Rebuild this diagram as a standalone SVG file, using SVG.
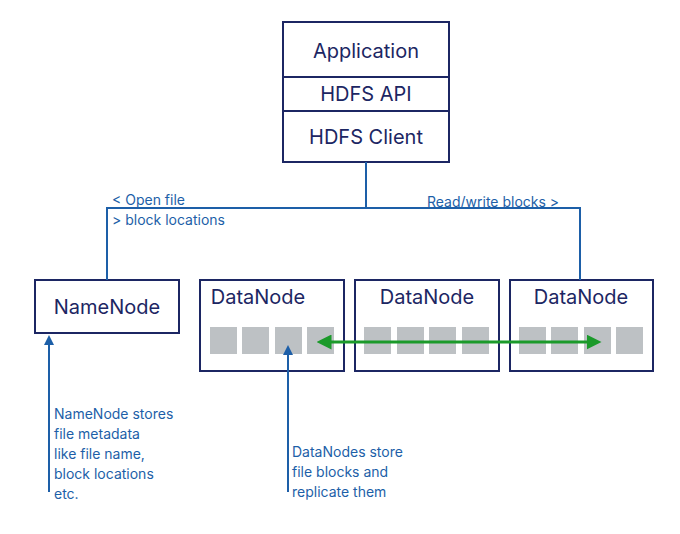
<svg xmlns="http://www.w3.org/2000/svg" width="680" height="534" viewBox="0 0 680 534">
<style>
.box{fill:#fff;stroke:#1c2663;stroke-width:2}
.t{font-family:Inter,"Open Sans",sans-serif;font-size:20px;fill:#1c2663;text-anchor:middle}
.a{font-family:Inter,"Open Sans",sans-serif;font-size:14px;fill:#1d5fa8}
.c{fill:none;stroke:#1d5fa8;stroke-width:2}
.b{fill:#bdc1c4}
</style>
<defs>
<marker id="ab" viewBox="0 0 10 10" refX="5" refY="5" markerWidth="5" markerHeight="5" orient="auto-start-reverse"><path d="M0,0L10,5L0,10z" fill="#1d5fa8"/></marker>
<marker id="ag" viewBox="0 0 10 10" refX="5" refY="5" markerWidth="5" markerHeight="5" orient="auto-start-reverse"><path d="M0,0L10,5L0,10z" fill="#1b9a2a"/></marker>
</defs>
<g id="application">
<rect class="box" x="283" y="22" width="166" height="140"/>
<line class="box" x1="283" y1="77" x2="449" y2="77"/>
<line class="box" x1="283" y1="111" x2="449" y2="111"/>
<text class="t" x="366" y="58">Application</text>
<text class="t" x="366" y="101">HDFS API</text>
<text class="t" x="366" y="144">HDFS Client</text>
</g>
<g id="namenode">
<rect class="box" x="35" y="280" width="144" height="53"/>
<text class="t" x="107" y="314">NameNode</text>
</g>
<g id="datanode1">
<rect class="box" x="200" y="280" width="144" height="91"/>
<text class="t" x="258" y="304">DataNode</text>
<rect class="b" x="210" y="327" width="27" height="27"/><rect class="b" x="242" y="327" width="27" height="27"/><rect class="b" x="275" y="327" width="27" height="27"/><rect class="b" x="307" y="327" width="27" height="27"/>
</g>
<g id="datanode2">
<rect class="box" x="355" y="280" width="144" height="91"/>
<text class="t" x="427" y="304">DataNode</text>
<rect class="b" x="364" y="327" width="27" height="27"/><rect class="b" x="397" y="327" width="27" height="27"/><rect class="b" x="429" y="327" width="27" height="27"/><rect class="b" x="462" y="327" width="27" height="27"/>
</g>
<g id="datanode3">
<rect class="box" x="510" y="280" width="143" height="91"/>
<text class="t" x="581" y="304">DataNode</text>
<rect class="b" x="519" y="327" width="27" height="27"/><rect class="b" x="551" y="327" width="27" height="27"/><rect class="b" x="584" y="327" width="27" height="27"/><rect class="b" x="616" y="327" width="27" height="27"/>
</g>
<g id="connectors">
<path class="c" d="M366,162V208M107,280V208H580V280"/>
<line class="c" x1="49" y1="492" x2="49" y2="340" marker-end="url(#ab)"/>
<line class="c" x1="288" y1="492" x2="288" y2="350" marker-end="url(#ab)"/>
<line x1="324" y1="342" x2="594" y2="342" stroke="#1b9a2a" stroke-width="3" marker-start="url(#ag)" marker-end="url(#ag)"/>
</g>
<g id="labels">
<text class="a" x="112" y="205">&lt; Open file</text>
<text class="a" x="112" y="225">&gt; block locations</text>
<text class="a" x="427" y="207">Read/write blocks &gt;</text>
<text class="a" x="54" y="419">NameNode stores</text>
<text class="a" x="54" y="439">file metadata</text>
<text class="a" x="54" y="459">like file name,</text>
<text class="a" x="54" y="479">block locations</text>
<text class="a" x="54" y="499">etc.</text>
<text class="a" x="292" y="457">DataNodes store</text>
<text class="a" x="292" y="477">file blocks and</text>
<text class="a" x="292" y="497">replicate them</text>
</g>
</svg>
